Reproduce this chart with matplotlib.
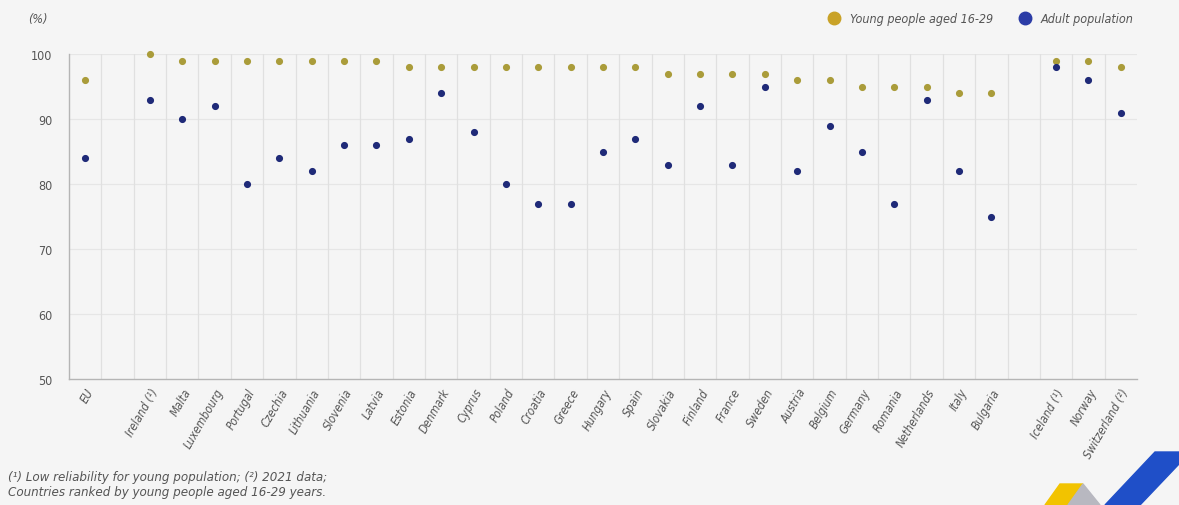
import numpy as np
import matplotlib.pyplot as plt
from matplotlib.patches import Polygon
from matplotlib.lines import Line2D

plt.rcParams['font.family'] = ['DejaVu Sans']
plt.rcParams['font.stretch'] = 'condensed'

# data (blank entries are spacer slots)
countries = ['EU', '', 'Ireland (¹)', 'Malta', 'Luxembourg', 'Portugal', 'Czechia', 'Lithuania',
             'Slovenia', 'Latvia', 'Estonia', 'Denmark', 'Cyprus', 'Poland', 'Croatia', 'Greece',
             'Hungary', 'Spain', 'Slovakia', 'Finland', 'France', 'Sweden', 'Austria', 'Belgium',
             'Germany', 'Romania', 'Netherlands', 'Italy', 'Bulgaria', '', 'Iceland (¹)', 'Norway',
             'Switzerland (²)']
young = [96, None, 100, 99, 99, 99, 99, 99, 99, 99, 98, 98, 98, 98, 98, 98, 98, 98, 97, 97, 97,
         97, 96, 96, 95, 95, 95, 94, 94, None, 99, 99, 98]
adult = [84, None, 93, 90, 92, 80, 84, 82, 86, 86, 87, 94, 88, 80, 77, 77, 85, 87, 83, 92, 83,
         95, 82, 89, 85, 77, 93, 82, 75, None, 98, 96, 91]
yticks = [50, 60, 70, 80, 90, 100]

bg = '#f5f5f5'
txt = '#555555'
c_young = '#aa9c3a'
c_adult = '#1f2a78'

W, H = 1179, 506
fig = plt.figure(figsize=(W / 100, H / 100), dpi=100, facecolor=bg)
ax = fig.add_axes([69 / W, 1 - 380 / H, (1137 - 69) / W, (380 - 55) / H], facecolor=bg)

x = np.arange(len(countries))
yv = np.array([np.nan if v is None else v for v in young], dtype=float)
av = np.array([np.nan if v is None else v for v in adult], dtype=float)

ax.scatter(x, yv, s=17, color=c_young, zorder=3, clip_on=False)
ax.scatter(x, av, s=17, color=c_adult, zorder=4, clip_on=False)

ax.set_xlim(-0.5, len(countries) - 0.5)
ax.set_ylim(50, 100)
ax.set_yticks(yticks)
ax.set_yticklabels([str(t) for t in yticks], color=txt, fontsize=9)
ax.set_xticks(x)
ax.set_xticklabels(countries, rotation=60, ha='right', va='top', rotation_mode='anchor',
                   fontsize=8.5, color=txt, style='italic')
ax.tick_params(length=0, pad=12)
ax.tick_params(axis='x', pad=5)

# grid
for g in yticks[1:]:
    ax.axhline(g, color='#e6e6e6', lw=0.9, zorder=1)
for b in np.arange(0.5, len(countries) - 0.5, 1):
    ax.axvline(b, color='#e0e0e0', lw=0.9, zorder=1)

for s in ['top', 'right']:
    ax.spines[s].set_visible(False)
for s in ['left', 'bottom']:
    ax.spines[s].set_color('#b5b5b5')
    ax.spines[s].set_linewidth(1.0)

fig.text(28 / W, 1 - 20 / H, '(%)', fontsize=9, color=txt, style='italic', va='center')

handles = [Line2D([], [], marker='o', ls='', markersize=9, color='#c9a227'),
           Line2D([], [], marker='o', ls='', markersize=9, color='#2b3ca6')]
leg = fig.legend(handles, ['Young people aged 16-29', 'Adult population'], ncol=2,
                 loc='center right', bbox_to_anchor=(1145 / W, 1 - 20 / H), frameon=False,
                 handletextpad=0.3, columnspacing=1.5, fontsize=9)
for t in leg.get_texts():
    t.set_color(txt)
    t.set_style('italic')

fig.text(8 / W, 1 - 478 / H, '(¹) Low reliability for young population; (²) 2021 data;',
         fontsize=9.5, color=txt, style='italic', va='center')
fig.text(8 / W, 1 - 493 / H, 'Countries ranked by young people aged 16-29 years.',
         fontsize=9.5, color=txt, style='italic', va='center')

# logo in the bottom-right corner
def px(pts):
    return [(a / W, 1 - b / H) for a, b in pts]

fig.add_artist(Polygon(px([(1045, 506), (1060, 485), (1083, 485), (1068, 506)]),
                       closed=True, color='#f2c300', transform=fig.transFigure))
fig.add_artist(Polygon(px([(1068, 506), (1083, 485), (1100, 506)]),
                       closed=True, color='#b8b8c0', transform=fig.transFigure))
fig.add_artist(Polygon(px([(1105, 506), (1155, 453), (1179, 453), (1179, 465), (1140, 506)]),
                       closed=True, color='#1f4fc8', transform=fig.transFigure))

fig.savefig('out.png', dpi=100, facecolor=bg)
